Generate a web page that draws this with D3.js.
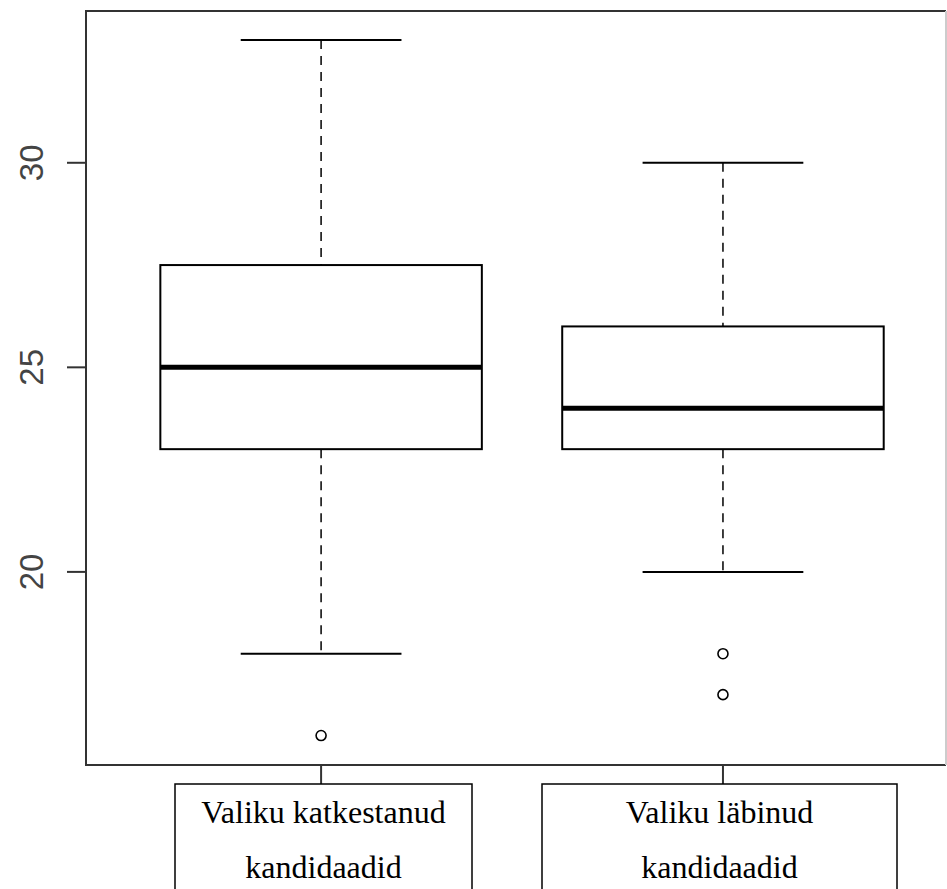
<!DOCTYPE html>
<html>
<head>
<meta charset="utf-8">
<script src="https://cdn.jsdelivr.net/npm/d3@7"></script>
<style>
body { margin: 0; background: #fff; }
</style>
</head>
<body>
<div id="chart"></div>
<script>
// data
var groups = ["Valiku katkestanud kandidaadid", "Valiku läbinud kandidaadid"];
var labelLines = [["Valiku katkestanud", "kandidaadid"], ["Valiku läbinud", "kandidaadid"]];
var whiskerLow = [18, 20];
var q1 = [23, 23];
var median = [25, 24];
var q3 = [27.5, 26];
var whiskerHigh = [33, 30];
var outliers = [[16], [18, 17]];
var yTicks = [20, 25, 30];

var width = 947, height = 889;
// note: "top" is taken by window.top, so plot edges get their own names
var plotLeft = 86, plotTop = 11, plotRight = 946, plotBottom = 765;

var svg = d3.select("#chart")
            .append("svg")
            .attr("width", width)
            .attr("height", height);

var x = d3.scaleLinear().domain([0.415, 2.555]).range([plotLeft, plotRight]);
var y = d3.scaleLinear().domain([15.28, 33.71]).range([plotBottom, plotTop]);
var boxHalf = 0.4;   // in x units
var capHalf = 0.2;

var data = groups.map(function(g, i){
	return {name: g, pos: i + 1, lo: whiskerLow[i], q1: q1[i], med: median[i],
	        q3: q3[i], hi: whiskerHigh[i], out: outliers[i], lines: labelLines[i]};
});

var boxes = svg.selectAll("g.box")
               .data(data)
               .enter()
               .append("g")
               .attr("class", "box");

// dashed whiskers
boxes.append("line")
     .attr("x1", function(d){return x(d.pos);})
     .attr("x2", function(d){return x(d.pos);})
     .attr("y1", function(d){return y(d.hi);})
     .attr("y2", function(d){return y(d.q3);})
     .style("stroke", "#000").style("stroke-width", 1.5)
     .style("stroke-dasharray", "9, 7");
boxes.append("line")
     .attr("x1", function(d){return x(d.pos);})
     .attr("x2", function(d){return x(d.pos);})
     .attr("y1", function(d){return y(d.q1);})
     .attr("y2", function(d){return y(d.lo);})
     .style("stroke", "#000").style("stroke-width", 1.5)
     .style("stroke-dasharray", "9, 7");

// caps
["hi", "lo"].forEach(function(k){
	boxes.append("line")
	     .attr("x1", function(d){return x(d.pos - capHalf);})
	     .attr("x2", function(d){return x(d.pos + capHalf);})
	     .attr("y1", function(d){return y(d[k]);})
	     .attr("y2", function(d){return y(d[k]);})
	     .style("stroke", "#000").style("stroke-width", 2);
});

// box
boxes.append("rect")
     .attr("x", function(d){return x(d.pos - boxHalf);})
     .attr("width", function(d){return x(d.pos + boxHalf) - x(d.pos - boxHalf);})
     .attr("y", function(d){return y(d.q3);})
     .attr("height", function(d){return y(d.q1) - y(d.q3);})
     .style("fill", "#fff").style("stroke", "#000").style("stroke-width", 2);

// median
boxes.append("line")
     .attr("x1", function(d){return x(d.pos - boxHalf);})
     .attr("x2", function(d){return x(d.pos + boxHalf);})
     .attr("y1", function(d){return y(d.med);})
     .attr("y2", function(d){return y(d.med);})
     .style("stroke", "#000").style("stroke-width", 5);

// outliers
boxes.selectAll("circle")
     .data(function(d){return d.out.map(function(v){return {pos: d.pos, v: v};});})
     .enter()
     .append("circle")
     .attr("cx", function(d){return x(d.pos);})
     .attr("cy", function(d){return y(d.v);})
     .attr("r", 5)
     .style("fill", "none").style("stroke", "#000").style("stroke-width", 1.6);

// frame: left, top, bottom dark; right edge is almost cut off in the original
var frame = svg.append("g").style("stroke-width", 2);
frame.append("path")
     .attr("d", "M" + plotRight + "," + plotTop + "H" + plotLeft + "V" + plotBottom + "H" + plotRight)
     .style("fill", "none").style("stroke", "#333");
frame.append("line")
     .attr("x1", plotRight).attr("x2", plotRight)
     .attr("y1", plotTop).attr("y2", plotBottom)
     .style("stroke", "#ccc");

// y axis ticks + labels
var yAxis = svg.append("g");
yAxis.selectAll("line")
     .data(yTicks)
     .enter()
     .append("line")
     .attr("x1", plotLeft - 19).attr("x2", plotLeft)
     .attr("y1", function(d){return y(d);})
     .attr("y2", function(d){return y(d);})
     .style("stroke", "#333").style("stroke-width", 2);
yAxis.selectAll("text")
     .data(yTicks)
     .enter()
     .append("text")
     .attr("transform", function(d){return "translate(43," + y(d) + ") rotate(-90)";})
     .style("text-anchor", "middle")
     .style("font-family", "Liberation Sans, Arial, sans-serif")
     .style("font-size", "33px")
     .style("fill", "#444")
     .text(function(d){return d;});

// x ticks and boxed labels
var boxLeft = [175, 542];
var boxRight = [472, 897];
var xLab = svg.selectAll("g.xlab")
              .data(data)
              .enter()
              .append("g")
              .attr("class", "xlab");
xLab.append("line")
    .attr("x1", function(d){return x(d.pos);})
    .attr("x2", function(d){return x(d.pos);})
    .attr("y1", plotBottom).attr("y2", 784)
    .style("stroke", "#333").style("stroke-width", 2);
xLab.append("rect")
    .attr("x", function(d, i){return boxLeft[i];})
    .attr("y", 784)
    .attr("width", function(d, i){return boxRight[i] - boxLeft[i];})
    .attr("height", 120)
    .style("fill", "#fff").style("stroke", "#000").style("stroke-width", 1.5);
xLab.selectAll("text")
    .data(function(d, i){return d.lines.map(function(t, j){return {t: t, j: j, cx: (boxLeft[i] + boxRight[i]) / 2};});})
    .enter()
    .append("text")
    .attr("x", function(d){return d.cx;})
    .attr("y", function(d){return 823 + d.j * 55;})
    .style("text-anchor", "middle")
    .style("font-family", "Liberation Serif, Times New Roman, serif")
    .style("font-size", "32px")
    .text(function(d){return d.t;});
</script>
</body>
</html>
